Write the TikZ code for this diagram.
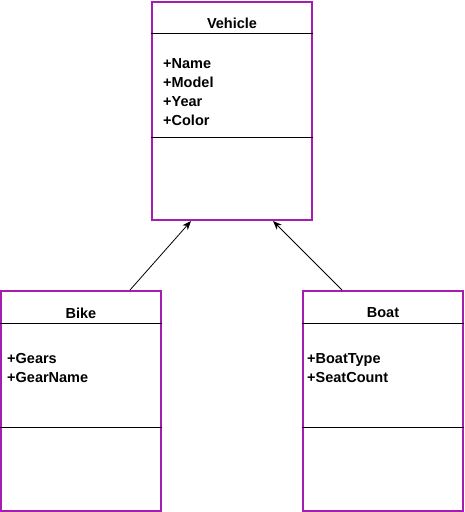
\documentclass[tikz,border=0pt]{standalone}
\usepackage{fontspec}
\setmainfont{Liberation Sans}
\usepackage{tikz}
\usetikzlibrary{arrows.meta}

\definecolor{umlpurple}{RGB}{165,30,175}
\tikzset{
  classbox/.style={draw=umlpurple, line width=2pt, minimum width=160pt, inner sep=0pt},
  classname/.style={font=\fontsize{14.5}{17}\selectfont\bfseries},
  attrs/.style={font=\fontsize{14.5}{19}\selectfont\bfseries, align=left, anchor=west, inner sep=0pt},
  sep/.style={black, line width=0.8pt},
  inherit/.style={-{Stealth[length=9pt,width=7pt]}, line width=0.8pt}
}

\begin{document}
\begin{tikzpicture}
\useasboundingbox (0,0) rectangle (465pt,-512pt);
% class boxes
\node[classbox, minimum height=218pt] (vehicle) at (232pt,-111pt) {};
\node[classbox, minimum height=220pt] (bike) at (81pt,-401pt) {};
\node[classbox, minimum height=220pt] (boat) at (383pt,-401pt) {};
% compartments
\draw[sep] ([yshift=-32pt]vehicle.north west) -- ([yshift=-32pt]vehicle.north east);
\draw[sep] ([yshift=-136pt]vehicle.north west) -- ([yshift=-136pt]vehicle.north east);
\draw[sep] ([yshift=-33pt]bike.north west) -- ([yshift=-33pt]bike.north east);
\draw[sep] ([yshift=-137pt]bike.north west) -- ([yshift=-137pt]bike.north east);
\draw[sep] ([yshift=-33pt]boat.north west) -- ([yshift=-33pt]boat.north east);
\draw[sep] ([yshift=-137pt]boat.north west) -- ([yshift=-137pt]boat.north east);
% names
\node[classname] (vehicleName) at ([yshift=-22pt]vehicle.north) {Vehicle};
\node[classname] (bikeName) at ([yshift=-23pt]bike.north) {Bike};
\node[classname] (boatName) at ([yshift=-23pt]boat.north) {Boat};
% attributes
\node[attrs] (vehicleAttrs) at ([xshift=12pt,yshift=-91.5pt]vehicle.north west) {+Name\\+Model\\+Year\\+Color};
\node[attrs] (bikeAttrs) at ([xshift=7pt,yshift=-78.5pt]bike.north west) {+Gears\\+GearName};
\node[attrs] (boatAttrs) at ([xshift=5pt,yshift=-78.5pt]boat.north west) {+BoatType\\+SeatCount};
% inheritance
\draw[inherit] ([xshift=49pt]bike.north) -- ([xshift=-41pt]vehicle.south);
\draw[inherit] ([xshift=-41pt]boat.north) -- ([xshift=41pt]vehicle.south);
\end{tikzpicture}
\end{document}
